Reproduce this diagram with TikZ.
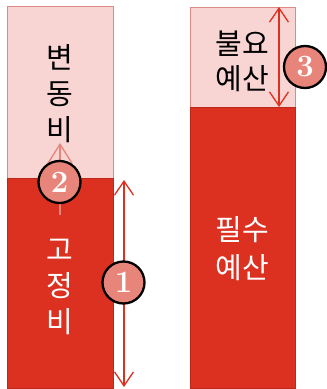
\documentclass[tikz,border=0pt]{standalone}
\usepackage{fontspec}
\newfontfamily\kr{Noto Sans CJK KR}
\usetikzlibrary{arrows.meta}
\definecolor{dred}{HTML}{DC3020}
\definecolor{pink}{HTML}{F8D4D2}
\definecolor{salmon}{HTML}{E8857B}
\definecolor{edgepink}{HTML}{DE8A84}
\tikzset{
  pale/.style={fill=pink,draw=edgepink,line width=0.8pt},
  dark/.style={fill=dred,draw=dred!85!black,line width=0.8pt},
  lbl/.style={font=\kr\fontsize{29}{36}\selectfont,align=center,inner sep=0pt},
  numc/.style={circle,fill=salmon,draw=black,line width=2.3pt,minimum size=42pt,inner sep=0pt,
    text=white,font=\fontsize{31}{31}\selectfont\bfseries},
  dim/.style={draw=dred,line width=1.3pt,{Straight Barb[length=14pt,width=19pt,line width=1.3pt]}-{Straight Barb[length=14pt,width=19pt,line width=1.3pt]}},
  up/.style={draw=salmon,line width=1.3pt,-{Straight Barb[length=19pt,width=24pt,line width=1.3pt]}}
}
\begin{document}
\begin{tikzpicture}[x=1pt,y=-1pt]
\useasboundingbox (0,0) rectangle (327,389);
% left bar
\draw[pale] (7,6) rectangle (113,178);
\draw[dark] (7,178) rectangle (113,388);
% right bar
\draw[pale] (190,7) rectangle (295,107);
\draw[dark] (190,107) rectangle (295,388);
% labels
\node[lbl,text=black] (var) at (60,94) {변\\동\\비};
\node[lbl,text=white] (fix) at (60,287) {고\\정\\비};
\node[lbl,text=black,font=\kr\fontsize{29}{35}\selectfont] (unn) at (242,61) {불요\\예산};
\node[lbl,text=white,font=\kr\fontsize{29}{38}\selectfont] (ess) at (242,249) {필수\\예산};
% arrows
\coordinate (a1t) at (124,180);
\coordinate (a1b) at (124,387);
\draw[dim] (a1t) -- (a1b);
\coordinate (a2s) at (60,215);
\coordinate (a2e) at (60,143);
\draw[up] (a2s) -- (a2e);
\coordinate (a3t) at (279,7);
\coordinate (a3b) at (279,107);
\draw[dim] (a3t) -- (a3b);
% circles
\node[numc] (c1) at (123.5,282.5) {1};
\node[numc] (c2) at (59.5,182) {2};
\node[numc] (c3) at (305,67) {3};
\end{tikzpicture}
\end{document}
